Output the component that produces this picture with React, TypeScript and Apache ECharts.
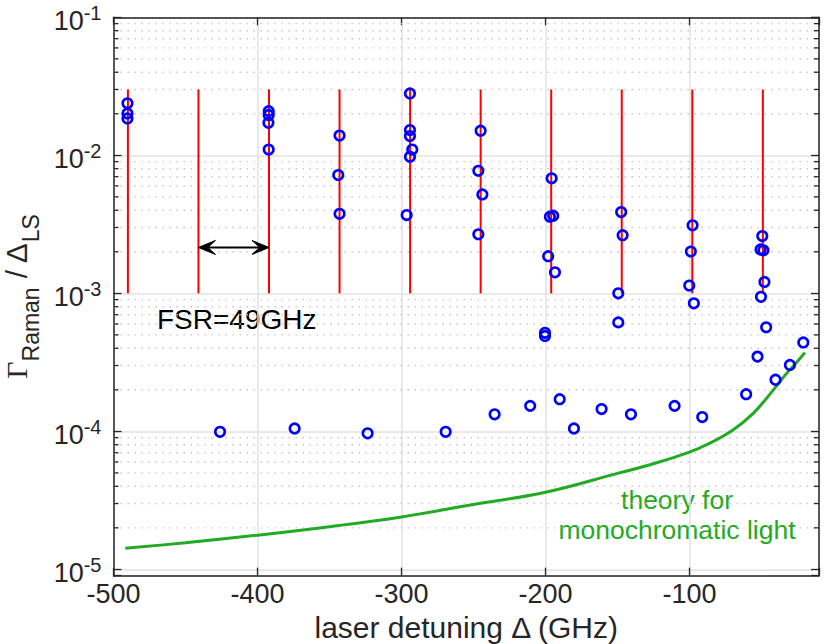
import React, { useEffect, useRef } from 'react';
import * as echarts from 'echarts';

// ---------- data ----------
const X_MIN = -500;
const X_MAX = -10;
const Y_MIN = 9e-6;
const Y_MAX = 0.1;
const xTickValues = [-500, -400, -300, -200, -100];

// cavity resonances (FSR = 49 GHz) drawn as red vertical lines
const resonanceX = [-490, -441, -392, -343, -294, -245, -196, -147, -98, -49];
const resonanceSpan = [1e-3, 0.03];
// double arrow marking one FSR: [from x, to x, y]
const fsrArrow = [-441, -392, 2.15e-3];

// measured points: detuning (GHz) and ratio
const measuredX = [
  -490.3, -490.3, -490.3,
  -392.2, -392.2, -392.4, -392.2,
  -343.0, -343.9, -343.0,
  -294.1, -294.1, -294.1, -292.5, -294.1, -296.4,
  -245.0, -246.6, -243.8, -246.6,
  -195.7, -196.9, -194.6, -198.1, -193.4, -200.3, -200.3,
  -147.4, -146.4, -149.4, -149.4,
  -97.8, -99.0, -100.1, -96.9,
  -49.4, -50.6, -48.6, -47.9, -50.3, -46.7,
  -426.0, -374.2, -323.5, -269.3, -235.3, -210.6, -190.1, -180.2,
  -161.0, -140.6, -110.3, -91.1, -60.6, -52.7, -40.2, -30.2, -20.9,
];
const measuredY = [
  0.0238, 0.0201, 0.0185,
  0.0209, 0.0196, 0.0172, 0.0110,
  0.0139, 0.0072, 0.00377,
  0.0281, 0.01525, 0.0138, 0.0110, 0.00977, 0.00369,
  0.01507, 0.00773, 0.00521, 0.00268,
  0.00681, 0.00359, 0.00365, 0.00186, 0.00142, 5.18e-4, 4.91e-4,
  0.00388, 0.00264, 0.00100, 6.16e-4,
  0.00311, 0.00201, 0.00114, 8.47e-4,
  0.00260, 0.00208, 0.00205, 0.00121, 9.44e-4, 5.68e-4,
  9.93e-5, 1.05e-4, 9.68e-5, 9.93e-5, 1.33e-4, 1.53e-4, 1.71e-4, 1.05e-4,
  1.45e-4, 1.33e-4, 1.53e-4, 1.27e-4, 1.86e-4, 3.48e-4, 2.37e-4, 3.03e-4, 4.41e-4,
];

// theory curve for monochromatic light
const theoryX = [-491.8, -450, -400, -350, -300, -250, -200, -150, -125, -100, -87, -70, -55.7, -41.8, -32.5, -25.6, -19.8];
const theoryY = [1.42e-5, 1.56e-5, 1.77e-5, 2.04e-5, 2.4e-5, 2.95e-5, 3.62e-5, 4.96e-5, 5.82e-5, 7.08e-5, 8.1e-5, 1.02e-4, 1.35e-4, 1.99e-4, 2.63e-4, 3.16e-4, 3.72e-4];

// ---------- style ----------
const AXIS = '#262626';
const SANS = '"Liberation Sans", Arial, Helvetica, sans-serif';
const SERIF = '"Liberation Serif", "DejaVu Serif", serif';
const BLUE = '#0000ff';
const RED = '#ff0000';
const GREEN = '#22aa22';

export default function App() {
  const ref = useRef<HTMLDivElement>(null);

  useEffect(() => {
    if (!ref.current) return;
    const chart = echarts.init(ref.current, undefined, { renderer: 'svg' });

    const minorValues: number[] = [];
    for (let e = -6; e <= -2; e++) {
      for (let k = 2; k <= 9; k++) {
        const v = k * Math.pow(10, e);
        if (v > Y_MIN * 1.0001 && v < Y_MAX * 0.9999) minorValues.push(v);
      }
    }

    const axisLine = { show: true, onZero: false, lineStyle: { color: AXIS, width: 1.5 } };
    const axisTick = { show: true, inside: true, length: 8, lineStyle: { color: AXIS, width: 1.3 } };
    const majorGrid = { show: true, lineStyle: { color: '#e2e2e2', width: 1.5 } };

    const option: any = {
      animation: false,
      backgroundColor: '#ffffff',
      grid: { left: 113.5, right: 11, top: 17.3, bottom: 68.3, containLabel: false, outerBoundsMode: 'none' },
      xAxis: [
        {
          type: 'value', min: X_MIN, max: X_MAX, interval: 100, position: 'bottom',
          axisLine, axisTick,
          axisLabel: {
            margin: 5, color: AXIS, fontSize: 27, fontFamily: SANS,
            formatter: (v: number) => (xTickValues.indexOf(v) >= 0 ? String(v) : ''),
          },
          splitLine: majorGrid,
          name: 'laser detuning Δ (GHz)', nameLocation: 'middle', nameGap: 25,
          nameTextStyle: { fontSize: 30, color: AXIS, fontFamily: SANS },
        },
        {
          type: 'value', min: X_MIN, max: X_MAX, interval: 100, position: 'top',
          axisLine, axisTick, axisLabel: { show: false }, splitLine: { show: false },
        },
      ],
      yAxis: [
        {
          type: 'log', logBase: 10, min: Y_MIN, max: Y_MAX, position: 'left',
          axisLine, axisTick,
          axisLabel: {
            margin: 12, color: AXIS,
            formatter: (v: number) => {
              const e = Math.log10(v);
              const r = Math.round(e);
              if (Math.abs(e - r) > 1e-6) return '';
              return `{b|10}{s|${r}}`;
            },
            rich: {
              b: { fontSize: 27, lineHeight: 28, fontFamily: SANS, color: AXIS, padding: [7, 0, 0, 0] },
              s: { fontSize: 20, lineHeight: 28, fontFamily: SANS, color: AXIS, padding: [0, 0, 9, 0] },
            },
          },
          splitLine: majorGrid,
          name: '{g|Γ}{sub|Raman}{n| / Δ}{sub|LS}', nameLocation: 'middle', nameGap: 78, nameRotate: 90,
          nameTextStyle: {
            color: AXIS,
            rich: {
              g: { fontSize: 30, lineHeight: 30, fontFamily: SERIF, color: AXIS },
              n: { fontSize: 30, lineHeight: 30, fontFamily: SANS, color: AXIS },
              sub: { fontSize: 23, lineHeight: 30, fontFamily: SANS, color: AXIS, padding: [30, 0, 0, 0] },
            },
          },
        },
        {
          type: 'log', logBase: 10, min: Y_MIN, max: Y_MAX, position: 'right',
          axisLine, axisTick, axisLabel: { show: false }, splitLine: { show: false },
        },
      ],
      series: [
        {
          type: 'custom', name: 'minor grid', silent: true, z: 1,
          xAxisIndex: 0, yAxisIndex: 0,
          data: minorValues.map((v) => [X_MIN, v]),
          encode: { x: 0, y: 1 },
          renderItem: (params: any, api: any) => {
            const cs = params.coordSys;
            const y = api.coord([X_MIN, api.value(1)])[1];
            const l = cs.x;
            const r = cs.x + cs.width;
            return {
              type: 'group',
              children: [
                { type: 'line', shape: { x1: l, y1: y, x2: r, y2: y }, style: { stroke: '#c4c4c4', lineWidth: 1.4, lineDash: [1.4, 5.6] } },
                { type: 'line', shape: { x1: l, y1: y, x2: l + 5, y2: y }, style: { stroke: AXIS, lineWidth: 1.3 } },
                { type: 'line', shape: { x1: r - 5, y1: y, x2: r, y2: y }, style: { stroke: AXIS, lineWidth: 1.3 } },
              ],
            };
          },
        },
        {
          type: 'custom', name: 'resonances', silent: true, z: 2,
          data: resonanceX.map((x) => [x, resonanceSpan[0], resonanceSpan[1]]),
          encode: { x: 0, y: [1, 2] },
          renderItem: (params: any, api: any) => {
            const a = api.coord([api.value(0), api.value(1)]);
            const b = api.coord([api.value(0), api.value(2)]);
            return { type: 'line', shape: { x1: a[0], y1: a[1], x2: b[0], y2: b[1] }, style: { stroke: RED, lineWidth: 2 } };
          },
        },
        {
          type: 'custom', name: 'FSR arrow', silent: true, z: 3,
          data: [fsrArrow],
          encode: { x: [0, 1], y: 2 },
          renderItem: (params: any, api: any) => {
            const a = api.coord([api.value(0), api.value(2)]);
            const b = api.coord([api.value(1), api.value(2)]);
            const L = 17, W = 14, N = 0.55;
            const head = (tx: number, ty: number, dir: number) => ({
              type: 'polygon',
              shape: { points: [[tx, ty], [tx + dir * L, ty - W / 2], [tx + dir * L * N, ty], [tx + dir * L, ty + W / 2]] },
              style: { fill: '#000', stroke: '#000', lineWidth: 1 },
            });
            return {
              type: 'group',
              children: [
                { type: 'line', shape: { x1: a[0] + 4, y1: a[1], x2: b[0] - 4, y2: b[1] }, style: { stroke: '#000', lineWidth: 2 } },
                head(a[0], a[1], 1),
                head(b[0], b[1], -1),
              ],
            };
          },
        },
        {
          type: 'line', name: 'theory', z: 3,
          data: theoryX.map((x, i) => [x, theoryY[i]]),
          showSymbol: false, symbol: 'none', smooth: 0.4,
          lineStyle: { color: GREEN, width: 3 },
        },
        {
          type: 'scatter', name: 'measured', z: 4,
          data: measuredX.map((x, i) => [x, measuredY[i]]),
          symbol: 'circle', symbolSize: 9.5,
          itemStyle: { color: 'rgba(0,0,0,0)', borderColor: BLUE, borderWidth: 2.6, opacity: 1 },
        },
      ],
      graphic: [
        {
          type: 'text', x: 157, y: 319, silent: true,
          style: { text: 'FSR=49GHz', fontSize: 28, fontFamily: SANS, fill: '#000', align: 'left', verticalAlign: 'middle' },
        },
        {
          type: 'text', x: 677, y: 514.5, silent: true,
          style: {
            text: 'theory for\nmonochromatic light', fontSize: 26.5, lineHeight: 30, fontFamily: SANS,
            fill: GREEN, align: 'center', verticalAlign: 'middle',
          },
        },
      ],
    };

    chart.setOption(option);
    return () => chart.dispose();
  }, []);

  return (
    <div
      ref={ref}
      style={{ position: 'absolute', left: 0, top: 0, width: 830, height: 644, background: '#fff' }}
    />
  );
}
